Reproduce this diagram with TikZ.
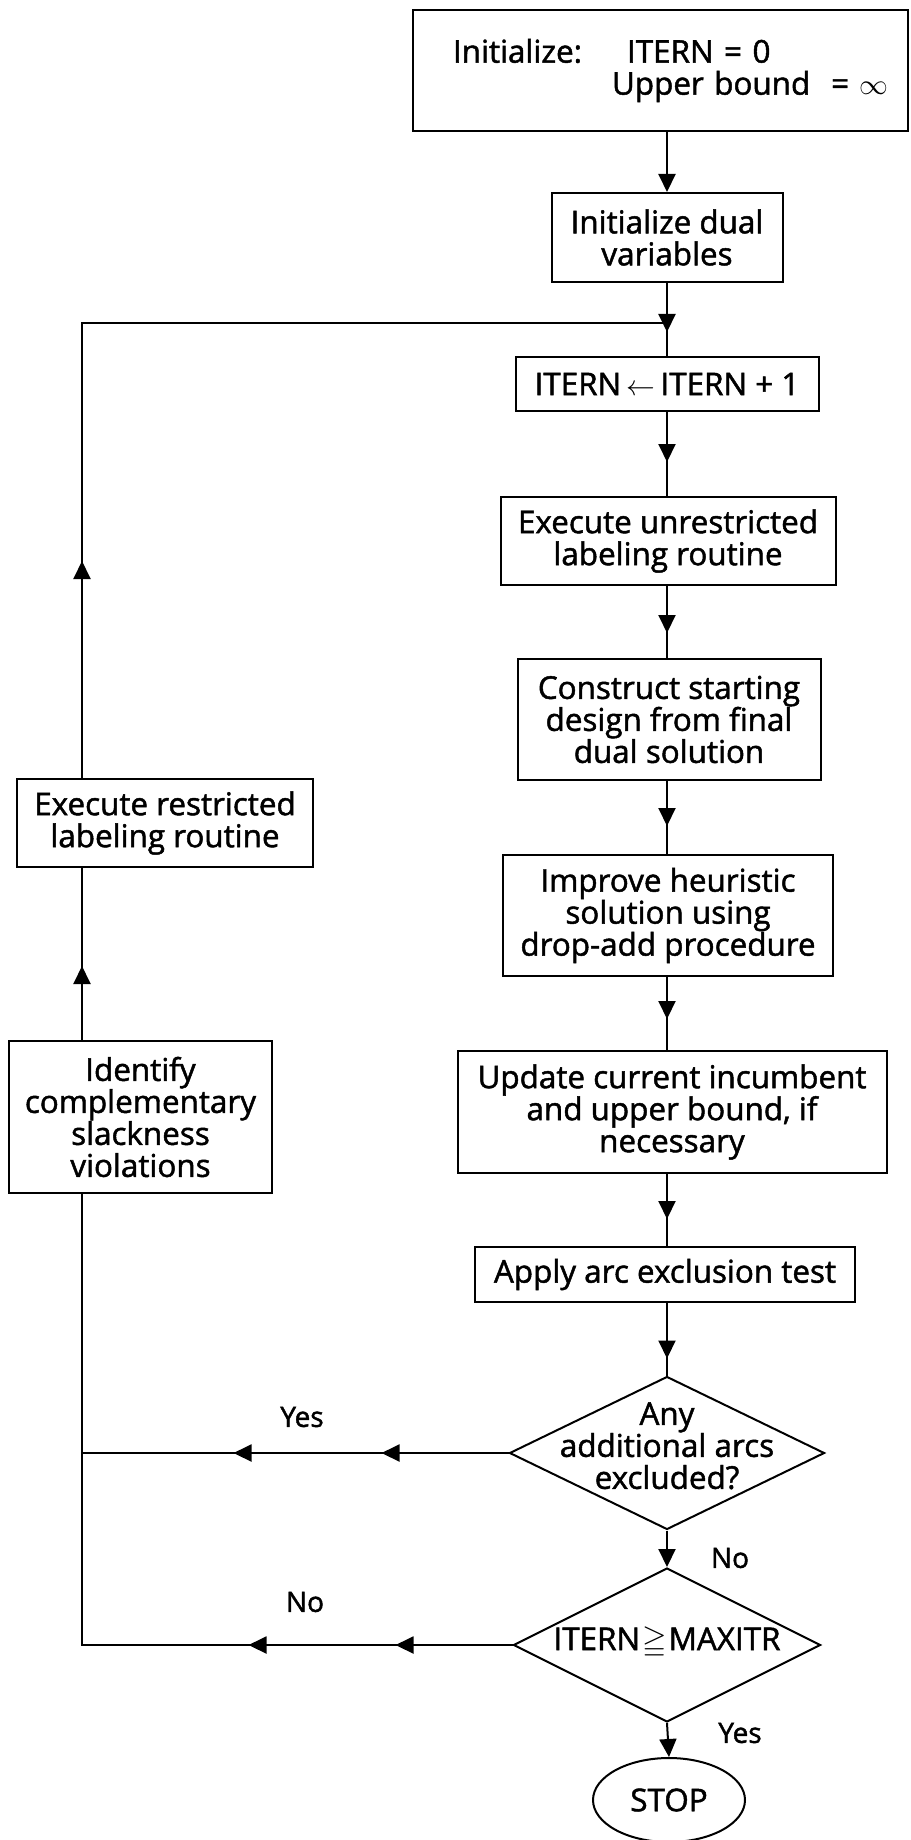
\documentclass[tikz,border=0pt]{standalone}
\usepackage{fontspec}
\setmainfont{Open Sans}[FakeBold=1.5]
\usepackage{amssymb}
\usetikzlibrary{arrows.meta,decorations.markings,shapes.geometric}
\newcommand\flowfont{\fontsize{15.7}{16}\selectfont\lineskiplimit=-20pt\relax}
\newcommand\lblfont{\fontsize{14}{16}\selectfont}
\begin{document}
\begin{tikzpicture}[x=0.5pt,y=-0.5pt,
  >={Triangle[length=9pt,width=8.5pt]},
  every node/.style={font=\flowfont},
  box/.style={draw,line width=1pt,align=center,inner sep=0pt},
  dia/.style={draw,line width=1pt,diamond,inner sep=0pt},
  lbl/.style={font=\lblfont,inner sep=0pt},
  flow/.style={line width=1pt},
  arrowat/.style={postaction={decorate,decoration={markings,mark=at position #1 with {\arrow{>}}}}},
  arrowatt/.style 2 args={postaction={decorate,decoration={markings,mark=at position #1 with {\arrow{>}},mark=at position #2 with {\arrow{>}}}}}
]
\useasboundingbox (0,0) rectangle (910,1840);
\fill[white] (0,0) rectangle (910,1840);

% main column
\node[box,align=left,text width=247.5pt,minimum height=60.5pt] (init) at (660.5,70.5)
  {\hspace*{20pt}\makebox[87pt][l]{Initialize:}ITERN = 0\\ \hspace*{99.5pt}Upper bound\ \ = $\infty$};
\node[box,minimum width=115.5pt,minimum height=44.5pt] (dual) at (667,237.5) {Initialize dual\\variables};
\node[box,minimum width=151.5pt,minimum height=27pt] (itern) at (667,384) {ITERN\,$\leftarrow$\,ITERN + 1};
\node[box,minimum width=167.5pt,minimum height=44pt] (unres) at (668,541) {Execute unrestricted\\labeling routine};
\node[box,minimum width=151.5pt,minimum height=60.5pt] (constr) at (669,719.5) {Construct starting\\design from final\\dual solution};
\node[box,minimum width=165pt,minimum height=60.5pt] (improve) at (668,915.5) {Improve heuristic\\solution using\\drop-add procedure};
\node[box,minimum width=214.5pt,minimum height=61pt] (update) at (672,1112) {Update current incumbent\\and upper bound, if\\necessary};
\node[box,minimum width=190pt,minimum height=27.5pt] (apply) at (665,1274.5) {Apply arc exclusion test};
\node[dia,minimum width=157.5pt,minimum height=76.5pt] (dia1) at (667,1453)
  {\makebox[0pt]{\smash{\parbox[c]{200pt}{\centering Any\\additional arcs\\excluded?}}}};
\node[dia,minimum width=153.5pt,minimum height=77pt] (dia2) at (667,1645)
  {\makebox[0pt]{\smash{\raisebox{-2.5pt}{ITERN\kern1pt$\geqq$\kern1pt MAXITR}}}};
\node[draw,line width=1pt,ellipse,inner sep=0pt,minimum width=76pt,minimum height=42pt] (stop) at (669,1800) {STOP};

% left column
\node[box,minimum width=148pt,minimum height=44pt] (restr) at (165,823) {Execute restricted\\labeling routine};
\node[box,minimum width=131.5pt,minimum height=76pt] (ident) at (140.5,1117) {Identify\\complementary\\slackness\\violations};

% labels
\node[lbl] (yes1) at (302,1417) {Yes};
\node[lbl] (no1) at (730,1558) {No};
\node[lbl] (no2) at (305,1602) {No};
\node[lbl] (yes2) at (740,1733) {Yes};

% coordinates for loop
\coordinate (c0) at (82,323);
\coordinate (join) at (667,323);
\coordinate (c2) at (dia2.west -| c0);
\coordinate (c1) at (dia1.west -| c0);

% main connectors
\draw[flow,->] (dual.north |- init.south) -- (dual.north);
\draw[flow,arrowat=-12pt] (dual.south) -- (itern.north);
\draw[flow,arrowat=-17pt] (itern.south) -- (itern.south |- unres.north);
\draw[flow,arrowat=-12.5pt] (itern.south |- unres.south) -- (itern.south |- constr.north);
\draw[flow,arrowat=-14pt] (itern.south |- constr.south) -- (itern.south |- improve.north);
\draw[flow,arrowat=-15.5pt] (itern.south |- improve.south) -- (itern.south |- update.north);
\draw[flow,arrowat=-13.5pt] (itern.south |- update.south) -- (itern.south |- apply.north);
\draw[flow,arrowat=-8.5pt] (itern.south |- apply.south) -- (dia1.north);
\draw[flow,->] (dia1.south) -- (dia2.north);
\draw[flow,->] (dia2.south) -- (stop.north);

% loop connectors
\draw[flow,arrowatt={63.5pt}{137.5pt}] (dia1.west) -- (c1);
\draw[flow,arrowatt={58.5pt}{132pt}] (dia2.west) -- (c2) -- (c2 |- ident.south);
\draw[flow,arrowat=-49pt] (c2 |- ident.north) -- (c2 |- restr.south);
\draw[flow,arrowat=108.5pt] (c2 |- restr.north) -- (c0) -- (join);
\end{tikzpicture}
\end{document}
